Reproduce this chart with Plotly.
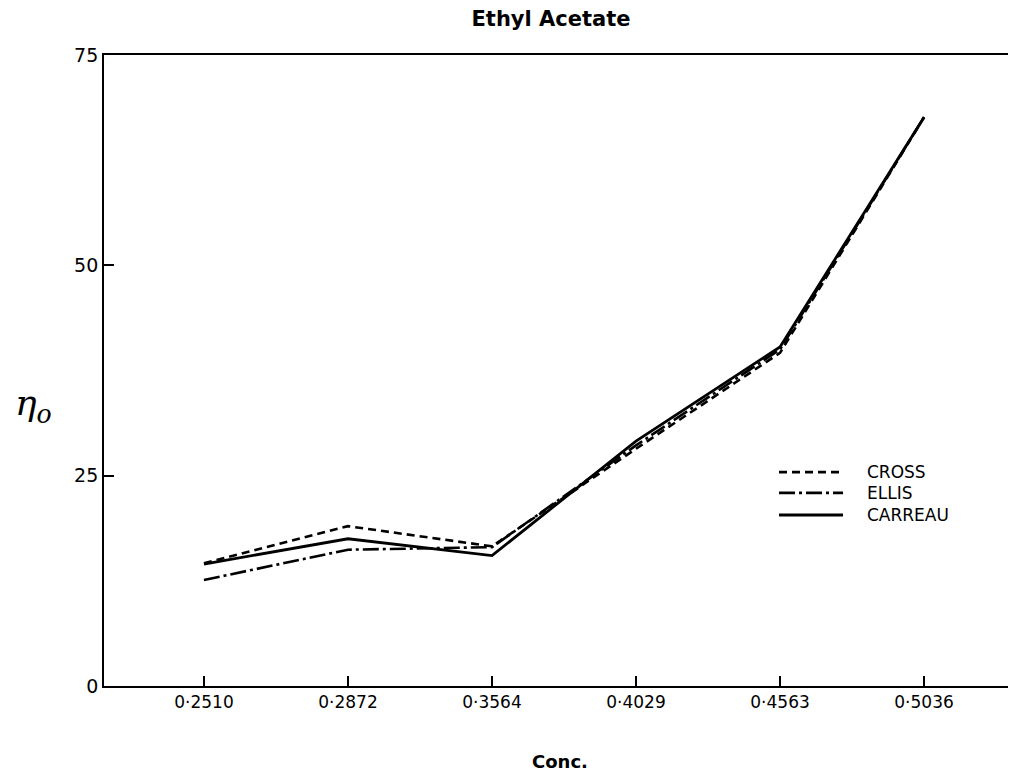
import plotly.graph_objects as go

conc = ["0·2510", "0·2872", "0·3564", "0·4029", "0·4563", "0·5036"]
cross = [14.6, 19.0, 16.6, 28.2, 39.6, 67.6]
ellis = [12.6, 16.2, 16.5, 28.6, 40.0, 67.6]
carreau = [14.5, 17.5, 15.5, 29.1, 40.3, 67.6]
yticks = [0, 25, 50, 75]
series_names = ["CROSS", "ELLIS", "CARREAU"]

dashes = ["8px,5px", "16px,4px,3px,4px", "solid"]
widths = [2.6, 2.6, 2.8]
series = [cross, ellis, carreau]

FONT = "DejaVu Sans, Liberation Sans, Arial, sans-serif"

fig = go.Figure()
for name, vals, d, w in zip(series_names, series, dashes, widths):
    fig.add_trace(go.Scatter(x=conc, y=vals, mode="lines", name=name, showlegend=False,
                             line=dict(color="black", width=w, dash=d)))

fig.update_layout(
    width=1000, height=768,
    margin=dict(l=96, r=0, t=47, b=90),
    paper_bgcolor="white", plot_bgcolor="white",
    font=dict(family=FONT, color="black", size=17),
    title=dict(text="<b>Ethyl Acetate</b>", x=0.543, xanchor="center", y=1 - 11 / 768,
               yanchor="middle", font=dict(size=21, family=FONT)),
    xaxis=dict(type="category", range=[-0.694, 5.583], showgrid=False, zeroline=False,
               showline=True, linecolor="black", linewidth=1.8, mirror=True,
               ticks="inside", ticklen=10, tickcolor="black", tickwidth=1.8,
               tickfont=dict(size=17)),
    yaxis=dict(range=[0, 75], tickvals=yticks, showgrid=False, zeroline=False,
               showline=True, linecolor="black", linewidth=1.8,
               ticks="inside", ticklen=10, tickcolor="black", tickwidth=1.8,
               ticklabelstandoff=0, tickfont=dict(size=19)),
)

# axis labels
fig.add_annotation(text="<b>Conc.</b>", xref="paper", yref="paper", x=0.504, y=-0.12,
                   xanchor="center", yanchor="middle",
                   showarrow=False, font=dict(size=18, family=FONT))
fig.add_annotation(text="<i>η<sub>o</sub></i>", xref="paper", yref="paper",
                   x=-0.0785, y=0.445, xanchor="center", yanchor="middle",
                   showarrow=False, font=dict(size=36, family="DejaVu Serif, serif"))

# legend drawn as keyed samples
leg_y = [0.339, 0.306, 0.271]
for name, d, w, yy in zip(series_names, dashes, widths, leg_y):
    fig.add_shape(type="line", xref="paper", yref="paper", x0=0.7467, x1=0.8175,
                  y0=yy, y1=yy, line=dict(color="black", width=w, dash=d))
    fig.add_annotation(text=name, xref="paper", yref="paper", x=0.8418, y=yy,
                       xanchor="left", yanchor="middle", showarrow=False,
                       font=dict(size=17, family=FONT))

fig.write_html("out.html")
